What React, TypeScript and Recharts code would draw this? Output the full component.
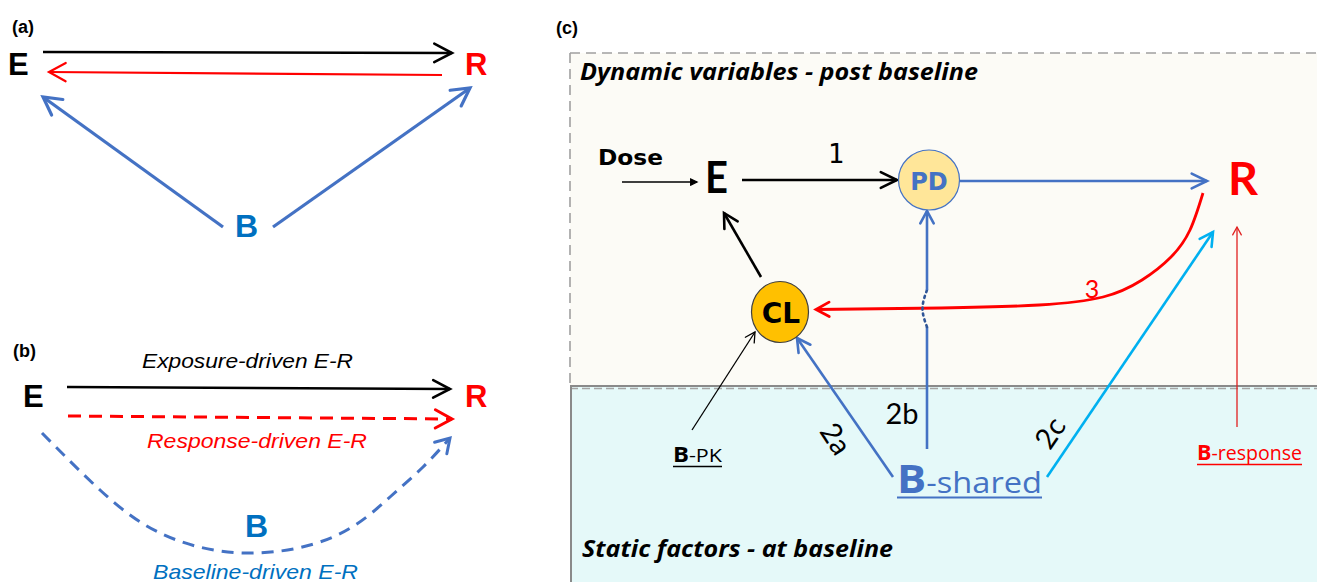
import React from 'react';
import { ComposedChart, XAxis, YAxis, Line, Scatter, ReferenceArea, ReferenceLine } from 'recharts';

type Pt = { x: number; y: number };
type Lbl = { x: number; y: number; text: string; kind: string };

// ---------- Panel (a) ----------
const aExposureArrow: Pt[] = [{ x: 43, y: 52 }, { x: 452, y: 53 }];
const aResponseArrow: Pt[] = [{ x: 442, y: 75 }, { x: 49, y: 72 }];
const aBaselineToE: Pt[] = [{ x: 223, y: 227 }, { x: 43, y: 97 }];
const aBaselineToR: Pt[] = [{ x: 273, y: 227 }, { x: 470, y: 88 }];

// ---------- Panel (b) ----------
const bExposureArrow: Pt[] = [{ x: 67, y: 387 }, { x: 450, y: 389 }];
const bResponseArrow: Pt[] = [{ x: 68, y: 416 }, { x: 452, y: 419 }];
const bBaselineArc: Pt[] = [
  { x: 42, y: 433 }, { x: 100, y: 490 }, { x: 160, y: 533 }, { x: 243, y: 553 },
  { x: 333, y: 537 }, { x: 390, y: 497 }, { x: 423, y: 467 }, { x: 450, y: 438 },
];

// ---------- Panel (c) ----------
const cDoseArrow: Pt[] = [{ x: 622, y: 182 }, { x: 697, y: 182 }];
const cEtoPD: Pt[] = [{ x: 742, y: 180 }, { x: 897, y: 180 }];
const cPDtoR: Pt[] = [{ x: 960, y: 181 }, { x: 1207, y: 181 }];
const cCLtoE: Pt[] = [{ x: 761, y: 277 }, { x: 724, y: 213 }];
const cRtoCL: Pt[] = [
  { x: 1203, y: 193 }, { x: 1190, y: 230 }, { x: 1171, y: 257 }, { x: 1142, y: 280 },
  { x: 1103, y: 297 }, { x: 1039, y: 305 }, { x: 941, y: 308 }, { x: 816, y: 309.5 },
];
const c2bLower: Pt[] = [{ x: 927, y: 449 }, { x: 927, y: 327 }];
const c2bBridge: Pt[] = [{ x: 927, y: 327 }, { x: 922.5, y: 308.5 }, { x: 927, y: 290 }];
const c2bUpper: Pt[] = [{ x: 927, y: 290 }, { x: 927, y: 211 }];
const c2aArrow: Pt[] = [{ x: 893, y: 477 }, { x: 797, y: 338 }];
const c2cArrow: Pt[] = [{ x: 1047, y: 477 }, { x: 1213, y: 232 }];
const cBPKArrow: Pt[] = [{ x: 692, y: 430 }, { x: 755, y: 332 }];
const cBRespArrow: Pt[] = [{ x: 1237, y: 427 }, { x: 1237, y: 227 }];

const circleNodes = [
  { x: 929, y: 180, text: 'PD' },
  { x: 780, y: 312, text: 'CL' },
];

const labels: Lbl[] = [
  { x: 12, y: 33, text: '(a)', kind: 'tag' },
  { x: 8, y: 75, text: 'E', kind: 'abE' },
  { x: 465, y: 75, text: 'R', kind: 'abR' },
  { x: 235, y: 237, text: 'B', kind: 'abB' },
  { x: 13, y: 357, text: '(b)', kind: 'tag' },
  { x: 142, y: 368, text: 'Exposure-driven E-R', kind: 'capBlack' },
  { x: 23, y: 407, text: 'E', kind: 'abE' },
  { x: 465, y: 407, text: 'R', kind: 'abR' },
  { x: 147, y: 448, text: 'Response-driven E-R', kind: 'capRed' },
  { x: 245, y: 537, text: 'B', kind: 'abB' },
  { x: 153, y: 579, text: 'Baseline-driven E-R', kind: 'capBlue' },
  { x: 556, y: 34, text: '(c)', kind: 'tag' },
  { x: 580, y: 80, text: 'Dynamic variables - post baseline', kind: 'heading' },
  { x: 582, y: 557, text: 'Static factors - at baseline', kind: 'heading' },
  { x: 598, y: 165, text: 'Dose', kind: 'dose' },
  { x: 705, y: 193, text: 'E', kind: 'cE' },
  { x: 1228, y: 195, text: 'R', kind: 'cR' },
  { x: 836, y: 153, text: '1', kind: 'one' },
  { x: 1092, y: 288, text: '3', kind: 'pathRed' },
  { x: 837, y: 438, text: '2a', kind: 'path' },
  { x: 902, y: 412, text: '2b', kind: 'path' },
  { x: 1049, y: 432, text: '2c', kind: 'path' },
  { x: 673, y: 462, text: 'B-PK', kind: 'bPK' },
  { x: 897, y: 493, text: 'B-shared', kind: 'bShared' },
  { x: 1197, y: 460, text: 'B-response', kind: 'bResp' },
];

// ---------- styling (kept apart from data) ----------
const ARIAL = '"Liberation Sans", Arial, sans-serif';
const KIND: Record<string, any> = {
  tag: { font: ARIAL, size: 18, weight: 700, color: '#000' },
  abE: { font: ARIAL, size: 31, weight: 700, color: '#000' },
  abR: { font: ARIAL, size: 31, weight: 700, color: '#FF0000' },
  abB: { font: ARIAL, size: 32, weight: 700, color: '#0070C0' },
  capBlack: { font: ARIAL, size: 21, italic: true, color: '#000' },
  capRed: { font: ARIAL, size: 21, italic: true, color: '#FF0000' },
  capBlue: { font: ARIAL, size: 21, italic: true, color: '#0070C0' },
  heading: { font: '"Open Sans", sans-serif', size: 23, weight: 700, italic: true, color: '#000' },
  dose: { font: '"DejaVu Sans", sans-serif', size: 21, weight: 700, color: '#000' },
  cE: { font: 'Lato, sans-serif', size: 43, weight: 700, color: '#000' },
  cR: { font: 'Lato, sans-serif', size: 46, weight: 700, color: '#FF0000' },
  one: { font: '"DejaVu Sans Mono", monospace', size: 27, color: '#000', center: true },
  path: { font: 'Lato, sans-serif', size: 29, color: '#000', center: true },
  pathRed: { font: 'Lato, sans-serif', size: 25, color: '#FF0000', center: true },
  bPK: { font: '"Open Sans", sans-serif', size: 19, bsize: 21, color: '#000', split: true, ul: 1.5 },
  bShared: { font: '"Open Sans", sans-serif', size: 30, bsize: 40, color: '#4472C4', split: true, ul: 2 },
  bResp: { font: '"Open Sans", sans-serif', size: 20, bsize: 22, color: '#FF0000', split: true, ul: 1.5 },
};
const TEXT_WIDTH: Record<string, number> = {
  'Exposure-driven E-R': 211,
  'Response-driven E-R': 220,
  'Baseline-driven E-R': 205,
  'Dynamic variables - post baseline': 398,
  'Static factors - at baseline': 311,
  Dose: 65,
  'B-PK': 49,
  'B-shared': 145,
  'B-response': 105,
};
const ROTATION: Record<string, number> = { '2a': 57, '2c': -56 };
const SIZE_W: Record<string, number> = { cE: 23, cR: 30 };

const renderLabel = (p: any) => {
  const { cx, cy, payload } = p;
  if (cx == null || cy == null) return <g />;
  const st = KIND[payload.kind];
  const w = TEXT_WIDTH[payload.text] ?? SIZE_W[payload.kind];
  const common: any = {
    fontFamily: st.font,
    fontSize: st.size,
    fontWeight: st.weight ?? 400,
    fontStyle: st.italic ? 'italic' : 'normal',
    fill: st.color,
  };
  if (w) {
    common.textLength = w;
    common.lengthAdjust = 'spacingAndGlyphs';
  }
  if (st.center) {
    const rot = ROTATION[payload.text];
    return (
      <text
        x={cx}
        y={cy}
        textAnchor="middle"
        dominantBaseline="central"
        transform={rot ? `rotate(${rot} ${cx} ${cy})` : undefined}
        {...common}
      >
        {payload.text}
      </text>
    );
  }
  if (st.split) {
    return (
      <g>
        <text x={cx} y={cy} {...common}>
          <tspan fontWeight={700} fontSize={st.bsize}>{payload.text.slice(0, 1)}</tspan>
          <tspan>{payload.text.slice(1)}</tspan>
        </text>
        <line x1={cx} x2={cx + w} y1={cy + 4.5} y2={cy + 4.5} stroke={st.color} strokeWidth={st.ul} />
      </g>
    );
  }
  return (
    <text x={cx} y={cy} {...common}>
      {payload.text}
    </text>
  );
};

const renderCircle = (p: any) => {
  const { cx, cy, payload } = p;
  if (cx == null || cy == null) return <g />;
  const isPD = payload.text === 'PD';
  return (
    <g>
      <ellipse
        cx={cx}
        cy={cy}
        rx={isPD ? 30.5 : 28.5}
        ry={isPD ? 30 : 30.5}
        fill={isPD ? '#FFE699' : '#FFC000'}
        stroke={isPD ? '#4472C4' : '#404040'}
        strokeWidth={1.2}
      />
      <text
        x={cx + (isPD ? 0 : 1)}
        y={cy + (isPD ? 10 : 11)}
        textAnchor="middle"
        fontFamily='"DejaVu Sans", sans-serif'
        fontWeight={700}
        fontSize={isPD ? 24 : 28}
        fill={isPD ? '#4472C4' : '#000'}
      >
        {payload.text}
      </text>
    </g>
  );
};

const makeHead = (pts: Pt[], color: string, size: number, width: number, half = 0.5, filled = false) => {
  return (props: any) => {
    const { cx, cy, index } = props;
    if (index !== pts.length - 1 || cx == null) return <g key={`h${index}`} />;
    const a = pts[pts.length - 2];
    const b = pts[pts.length - 1];
    const ang = Math.atan2(b.y - a.y, b.x - a.x);
    const back = ang + Math.PI;
    const x1 = cx + size * Math.cos(back - half);
    const y1 = cy + size * Math.sin(back - half);
    const x2 = cx + size * Math.cos(back + half);
    const y2 = cy + size * Math.sin(back + half);
    return (
      <path
        key={`h${index}`}
        d={`M${x1},${y1} L${cx},${cy} L${x2},${y2}${filled ? ' Z' : ''}`}
        fill={filled ? color : 'none'}
        stroke={color}
        strokeWidth={width}
        strokeLinecap="round"
        strokeLinejoin="miter"
      />
    );
  };
};

type EdgeSpec = {
  pts: Pt[];
  color: string;
  width: number;
  head?: number;
  headW?: number;
  half?: number;
  dash?: string;
  curve?: 'linear' | 'natural';
  filled?: boolean;
  cap?: 'round' | 'butt';
};

const BLUE = '#4472C4';
const edges: EdgeSpec[] = [
  { pts: aExposureArrow, color: '#000', width: 2.6, head: 20, half: 0.48 },
  { pts: aResponseArrow, color: '#FF0000', width: 2.2, head: 19, half: 0.5 },
  { pts: aBaselineToE, color: BLUE, width: 3.2, head: 20, half: 0.5 },
  { pts: aBaselineToR, color: BLUE, width: 3.2, head: 20, half: 0.5 },
  { pts: bExposureArrow, color: '#000', width: 2.6, head: 19, half: 0.48 },
  { pts: bResponseArrow, color: '#FF0000', width: 3, head: 19, half: 0.5, dash: '13 8' },
  { pts: bBaselineArc, color: BLUE, width: 3, head: 16, half: 0.55, dash: '12 8', curve: 'natural' },
  { pts: cDoseArrow, color: '#000', width: 1.3, head: 7, half: 0.45, filled: true },
  { pts: cEtoPD, color: '#000', width: 2.6, head: 18, half: 0.45 },
  { pts: cPDtoR, color: BLUE, width: 2.6, head: 17, half: 0.45 },
  { pts: cCLtoE, color: '#000', width: 2.6, head: 16, half: 0.5 },
  { pts: cRtoCL, color: '#FF0000', width: 2.8, head: 15, half: 0.5, curve: 'natural' },
  { pts: c2bLower, color: BLUE, width: 2.6 },
  { pts: c2bBridge, color: '#2F5597', width: 2.6, dash: '2 4', curve: 'natural', cap: 'round' },
  { pts: c2bUpper, color: BLUE, width: 2.6, head: 14, half: 0.5 },
  { pts: c2aArrow, color: BLUE, width: 2.6, head: 15, half: 0.5 },
  { pts: c2cArrow, color: '#00B0F0', width: 2.6, head: 15, half: 0.5 },
  { pts: cBPKArrow, color: '#000', width: 1.3, head: 11, half: 0.5 },
  { pts: cBRespArrow, color: '#E02020', width: 1.3, head: 9, half: 0.5 },
];

const W = 1317;
const H = 582;

export default function App() {
  return (
    <div style={{ position: 'absolute', left: 0, top: 0, width: W, height: H, background: '#fff' }}>
      <ComposedChart width={W} height={H} margin={{ top: 0, right: 0, bottom: 0, left: 0 }}>
        <XAxis type="number" dataKey="x" domain={[0, W]} hide allowDataOverflow />
        <YAxis type="number" dataKey="y" domain={[0, H]} reversed hide allowDataOverflow />
        <ReferenceArea x1={570} x2={W} y1={53} y2={387} fill="#FCFBF6" fillOpacity={1} stroke="none" />
        <ReferenceArea x1={570} x2={W} y1={387} y2={H} fill="#E5F9F9" fillOpacity={1} stroke="none" />
        <ReferenceLine segment={[{ x: 570, y: 53 }, { x: W, y: 53 }]} stroke="#A0A0A0" strokeWidth={1.6} strokeDasharray="10 6" />
        <ReferenceLine segment={[{ x: 570, y: 53 }, { x: 570, y: 386 }]} stroke="#A0A0A0" strokeWidth={1.6} strokeDasharray="10 6" />
        <ReferenceLine segment={[{ x: 570, y: 386 }, { x: W, y: 386 }]} stroke="#8A8A8A" strokeWidth={2.2} />
        <ReferenceLine segment={[{ x: 570, y: 388.5 }, { x: W, y: 388.5 }]} stroke="#A5A5A5" strokeWidth={1.5} strokeDasharray="8 4" />
        <ReferenceLine segment={[{ x: 571, y: 387 }, { x: 571, y: H }]} stroke="#8A8A8A" strokeWidth={2} />
        {edges.map((e, i) => (
          <Line
            key={`edge${i}`}
            data={e.pts}
            dataKey="y"
            type={e.curve ?? 'linear'}
            stroke={e.color}
            strokeWidth={e.width}
            strokeDasharray={e.dash}
            strokeLinecap={e.cap ?? 'butt'}
            dot={e.head ? makeHead(e.pts, e.color, e.head, e.headW ?? e.width, e.half, e.filled) : false}
            activeDot={false}
            legendType="none"
            isAnimationActive={false}
          />
        ))}
        <Scatter data={circleNodes} shape={renderCircle} isAnimationActive={false} legendType="none" />
        <Scatter data={labels} shape={renderLabel} isAnimationActive={false} legendType="none" />
      </ComposedChart>
    </div>
  );
}
